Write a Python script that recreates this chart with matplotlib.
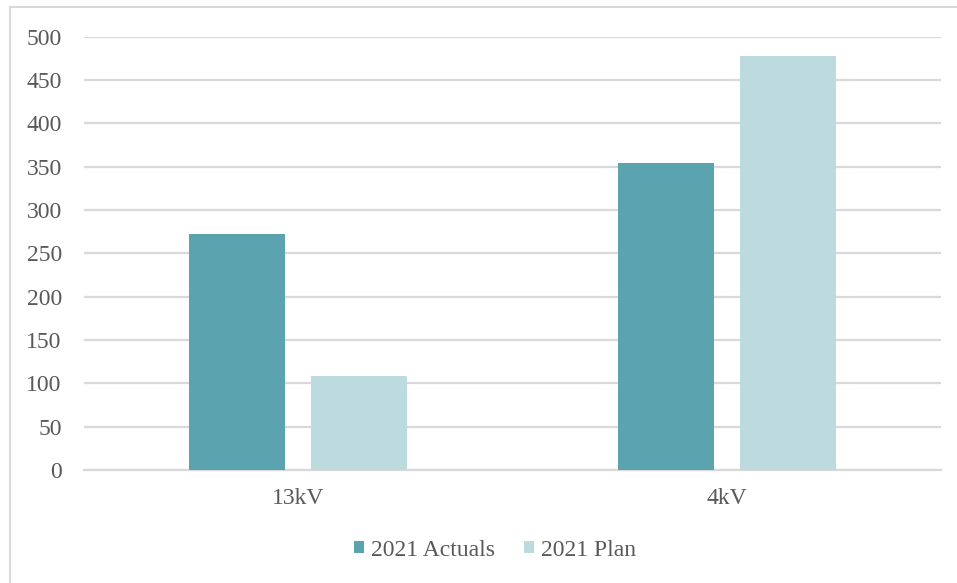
import matplotlib
matplotlib.use("Agg")
import matplotlib.pyplot as plt
from matplotlib.lines import Line2D
from matplotlib.patches import Patch
import numpy as np

categories = ["13kV", "4kV"]
series_names = ["2021 Actuals", "2021 Plan"]
actuals = [272, 354]
plan = [109, 478]
yticks = [0, 50, 100, 150, 200, 250, 300, 350, 400, 450, 500]

c_act = "#5BA3AF"
c_plan = "#BDDBDF"
grid_c = "#D9D9D9"
text_c = "#595959"

plt.rcParams["font.family"] = ["Liberation Serif", "DejaVu Serif"]

W, H = 957, 583
fig = plt.figure(figsize=(W / 100, H / 100), dpi=100)
ax = fig.add_axes([84 / W, 1 - 470 / H, (941 - 84) / W, (470 - 36.7) / H])

x = np.arange(len(categories))
bw = 0.224
off = 0.1424
ax.bar(x - off, actuals, width=bw, color=c_act, zorder=3)
ax.bar(x + off, plan, width=bw, color=c_plan, zorder=3)

ax.set_xlim(-0.5, len(categories) - 0.5)
ax.set_ylim(0, 500)
ax.set_yticks(yticks)
ax.set_yticklabels([str(v) for v in yticks])
ax.set_xticks(x)
ax.set_xticklabels(categories)
ax.yaxis.grid(True, color=grid_c, linewidth=1.6, zorder=0)
ax.set_axisbelow(True)
for s in ax.spines.values():
    s.set_visible(False)
ax.axhline(0, color=grid_c, linewidth=1.6, zorder=1, clip_on=False)
ax.tick_params(axis="both", length=0, labelsize=17, colors=text_c)
ax.tick_params(axis="y", pad=16)
ax.tick_params(axis="x", pad=13)

handles = [Patch(facecolor=c_act, edgecolor="none"), Patch(facecolor=c_plan, edgecolor="none")]
leg = fig.legend(handles, series_names, loc="center", bbox_to_anchor=(495 / W, 1 - 550 / H),
                 ncol=2, frameon=False, fontsize=17, handlelength=0.42, handleheight=0.42,
                 handletextpad=0.3, columnspacing=1.2, labelcolor=text_c)

# outer chart border
fig.add_artist(Line2D([10 / W, 10 / W], [0, 1 - 7 / H], color=grid_c, linewidth=1.5, transform=fig.transFigure))
fig.add_artist(Line2D([10 / W, 1], [1 - 7 / H, 1 - 7 / H], color=grid_c, linewidth=1.5, transform=fig.transFigure))

fig.savefig("out.png", dpi=100, facecolor="white")
